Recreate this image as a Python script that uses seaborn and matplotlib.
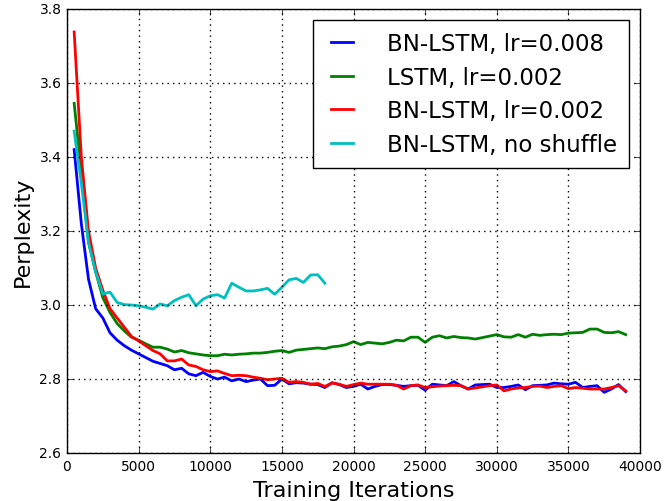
import matplotlib
matplotlib.use('Agg')
import matplotlib.pyplot as plt
import numpy as np
import pandas as pd
import seaborn as sns

# iterations (every 500 steps)
iters = list(range(500, 39001, 500))
iters_noshuf = list(range(500, 18001, 500))

bn_lr008 = [3.42, 3.22, 3.07, 2.99, 2.965, 2.925, 2.905, 2.89, 2.878, 2.868,
            2.858, 2.848, 2.842, 2.836, 2.825, 2.829, 2.814, 2.809, 2.818, 2.807,
            2.800, 2.805, 2.795, 2.800, 2.793, 2.797, 2.800, 2.782, 2.783, 2.800,
            2.787, 2.790, 2.789, 2.786, 2.785, 2.777, 2.790, 2.785, 2.777, 2.780,
            2.786, 2.773, 2.780, 2.785, 2.785, 2.783, 2.780, 2.782, 2.783,
            2.770, 2.786, 2.784, 2.782, 2.793, 2.782, 2.773, 2.784, 2.785, 2.786,
            2.777, 2.777, 2.780, 2.784, 2.771, 2.782, 2.783, 2.784, 2.789, 2.787,
            2.786, 2.791, 2.777, 2.780, 2.782, 2.764, 2.773, 2.785, 2.766]

lstm_lr002 = [3.545, 3.36, 3.17, 3.09, 3.02, 2.98, 2.95, 2.93, 2.913, 2.905,
              2.895, 2.886, 2.886, 2.881, 2.873, 2.877, 2.871, 2.868, 2.865, 2.863,
              2.863, 2.867, 2.865, 2.867, 2.868, 2.870, 2.870,
              2.872, 2.875, 2.877, 2.872, 2.878, 2.880, 2.882, 2.884, 2.882, 2.887,
              2.889, 2.893, 2.901, 2.893, 2.899, 2.897, 2.895, 2.899, 2.905, 2.903,
              2.913, 2.913,
              2.899, 2.913, 2.917, 2.911, 2.915, 2.912, 2.911, 2.908, 2.912, 2.916,
              2.920, 2.914, 2.913, 2.920, 2.913, 2.921, 2.918, 2.920, 2.921, 2.920,
              2.924, 2.925, 2.926, 2.935, 2.935, 2.926, 2.925, 2.928, 2.920]

bn_lr002 = [3.738, 3.40, 3.20, 3.10, 3.04, 2.99, 2.965, 2.94, 2.915, 2.903,
            2.890, 2.877, 2.868, 2.849, 2.849, 2.854, 2.838, 2.834, 2.825, 2.820,
            2.822, 2.815, 2.809, 2.810, 2.809, 2.805, 2.802,
            2.798, 2.800, 2.802, 2.791, 2.793, 2.791, 2.786, 2.788, 2.780, 2.789,
            2.786, 2.780, 2.785, 2.789, 2.786, 2.786, 2.786, 2.786, 2.783, 2.773,
            2.782, 2.784,
            2.777, 2.779, 2.781, 2.782, 2.783, 2.782, 2.773, 2.776, 2.779, 2.782,
            2.784, 2.768, 2.773, 2.776, 2.777, 2.780, 2.781, 2.777, 2.780, 2.782,
            2.774, 2.777, 2.775, 2.773, 2.773, 2.773, 2.777, 2.782, 2.768]

bn_noshuf = [3.47, 3.33, 3.17, 3.09, 3.03, 3.035, 3.007, 3.001, 3.000, 2.998,
             2.994, 2.989, 3.003, 2.998, 3.012, 3.021, 3.028, 2.998, 3.016, 3.025,
             3.028, 3.019, 3.059, 3.048, 3.038, 3.038, 3.041, 3.045, 3.029, 3.048,
             3.068, 3.072, 3.061, 3.081, 3.082, 3.059]

plt.style.use('classic')
plt.rcParams['figure.facecolor'] = 'white'
plt.rcParams['savefig.facecolor'] = 'white'
plt.rcParams['font.family'] = ['DejaVu Sans']

fig, ax = plt.subplots(figsize=(6.66, 5.02), dpi=100)
fig.subplots_adjust(left=0.1006, right=0.961, bottom=0.0956, top=0.980)

sns.lineplot(x=iters, y=bn_lr008, color='b', linewidth=2, label='BN-LSTM, lr=0.008', ax=ax)
sns.lineplot(x=iters, y=lstm_lr002, color='g', linewidth=2, label='LSTM, lr=0.002', ax=ax)
sns.lineplot(x=iters, y=bn_lr002, color='r', linewidth=2, label='BN-LSTM, lr=0.002', ax=ax)
sns.lineplot(x=iters_noshuf, y=bn_noshuf, color='c', linewidth=2, label='BN-LSTM, no shuffle', ax=ax)

ax.set_xlim(0, 40000)
ax.set_ylim(2.6, 3.8)
ax.set_xticks(np.arange(0, 40001, 5000))
ax.set_yticks(np.arange(2.6, 3.81, 0.2))
ax.grid(True, linestyle=':', color='k', linewidth=1)
ax.tick_params(labelsize=10, direction='in')
ax.set_xlabel('Training Iterations', fontsize=16)
ax.set_ylabel('Perplexity', fontsize=16)

ax.legend(loc='upper right', fontsize=16.5, frameon=True, fancybox=False,
          handlelength=1.55, handletextpad=1.2, labelspacing=0.47,
          borderpad=0.5, borderaxespad=0.5, numpoints=2)

plt.savefig('out.png', dpi=100)
